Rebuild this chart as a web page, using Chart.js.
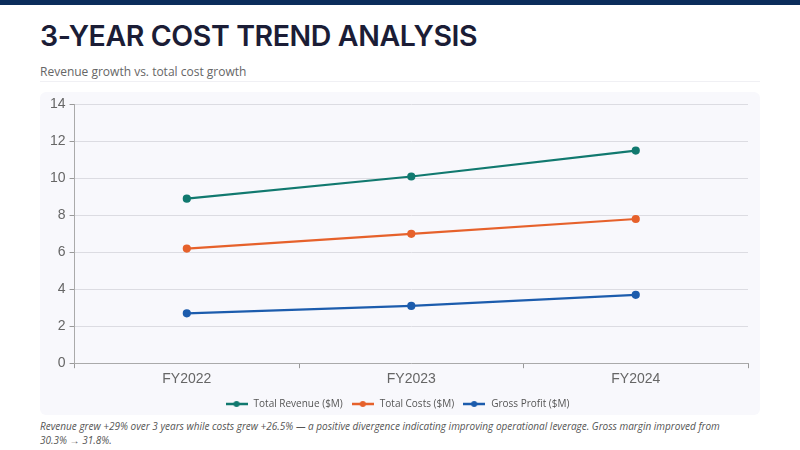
<!DOCTYPE html>
<html>
<head>
<meta charset="utf-8">
<script src="https://cdn.jsdelivr.net/npm/chart.js@4.4.1/dist/chart.umd.min.js"></script>
<style>
  html, body { margin: 0; padding: 0; width: 800px; height: 450px; background: #fff; overflow: hidden; font-family: Inter, "Noto Sans", sans-serif; }
  .topbar { position: absolute; left: 0; top: 0; width: 800px; height: 5px; background: #0b2d5b; }
  h1 { position: absolute; left: 40px; top: 18px; margin: 0; font-size: 28.5px; font-weight: 600; color: #1b1d36; letter-spacing: -0.4px; }
  .sub { position: absolute; left: 40px; top: 63px; font-size: 12px; color: #666; font-family: "Open Sans", sans-serif; }
  .rule { position: absolute; left: 40px; top: 81px; width: 720px; height: 1px; background: #f0f0f4; }
  .panel { position: absolute; left: 40px; top: 92px; width: 720px; height: 323px; background: #f8f8fc; border-radius: 6px; }
  .panel canvas { position: absolute; left: 0; top: 0; }
  .note { position: absolute; left: 40px; top: 419px; width: 705px; font-size: 10px; line-height: 14px; font-style: italic; color: #555; font-family: "Open Sans", sans-serif; }
</style>
</head>
<body>
<div class="topbar"></div>
<h1>3-YEAR COST TREND ANALYSIS</h1>
<div class="sub">Revenue growth vs. total cost growth</div>
<div class="rule"></div>
<div class="panel"><canvas id="myChart" width="720" height="327"></canvas></div>
<div class="note">Revenue grew +29% over 3 years while costs grew +26.5% — a positive divergence indicating improving operational leverage. Gross margin improved from 30.3% → 31.8%.</div>
<script>
const years = ['FY2022', 'FY2023', 'FY2024'];
const revenue = [8.9, 10.1, 11.5];
const costs = [6.2, 7.0, 7.8];
const profit = [2.7, 3.1, 3.7];
const seriesNames = ['Total Revenue ($M)', 'Total Costs ($M)', 'Gross Profit ($M)'];
const seriesColors = ['#11796f', '#e6612b', '#1c5cad'];

// little line-with-dot icon for the legend
const legendIcon = (color) => {
  const c = document.createElement('canvas');
  c.width = 22; c.height = 8;
  const g = c.getContext('2d');
  g.strokeStyle = color; g.lineWidth = 2.5;
  g.beginPath(); g.moveTo(0, 4); g.lineTo(22, 4); g.stroke();
  g.fillStyle = color;
  g.beginPath(); g.arc(11, 4, 3, 0, Math.PI * 2); g.fill();
  return c;
};

const makeSet = (i, data) => ({
  label: seriesNames[i],
  data,
  borderColor: seriesColors[i],
  backgroundColor: seriesColors[i],
  borderWidth: 2.2,
  pointRadius: 3,
  pointHoverRadius: 3,
  pointStyle: 'circle',
  tension: 0,
});

const ctx = document.getElementById('myChart').getContext('2d');
new Chart(ctx, {
  type: 'line',
  data: {
    labels: years,
    datasets: [makeSet(0, revenue), makeSet(1, costs), makeSet(2, profit)],
  },
  options: {
    responsive: false,
    animation: false,
    layout: { padding: { left: 6, right: 12, top: 7, bottom: 0 } },
    scales: {
      x: {
        offset: true,
        grid: { display: true, offset: true, drawOnChartArea: false, color: '#999', tickLength: 5 },
        border: { display: true, color: '#aaa', width: 1 },
        ticks: { color: '#666', font: { family: 'Arial, "Liberation Sans", sans-serif', size: 14 }, padding: 3 },
      },
      y: {
        min: 0,
        max: 14,
        ticks: { stepSize: 2, color: '#666', font: { family: 'Arial, "Liberation Sans", sans-serif', size: 14 }, padding: 4 },
        grid: { color: '#dcdce2', tickLength: 5, tickColor: '#999' },
        border: { display: true, color: '#aaa', width: 1 },
      },
    },
    plugins: {
      legend: {
        position: 'bottom',
        labels: {
          usePointStyle: true,
          pointStyleWidth: 24,
          boxHeight: 8,
          color: '#555',
          font: { family: '"Open Sans", sans-serif', size: 10 },
          padding: 8,
          generateLabels: (chart) => chart.data.datasets.map((ds, i) => ({
            text: ds.label,
            pointStyle: legendIcon(ds.borderColor),
            fillStyle: ds.borderColor,
            strokeStyle: ds.borderColor,
            lineWidth: 0,
            datasetIndex: i,
            fontColor: '#555',
          })),
        },
      },
      tooltip: { enabled: false },
    },
  },
});
</script>
</body>
</html>
